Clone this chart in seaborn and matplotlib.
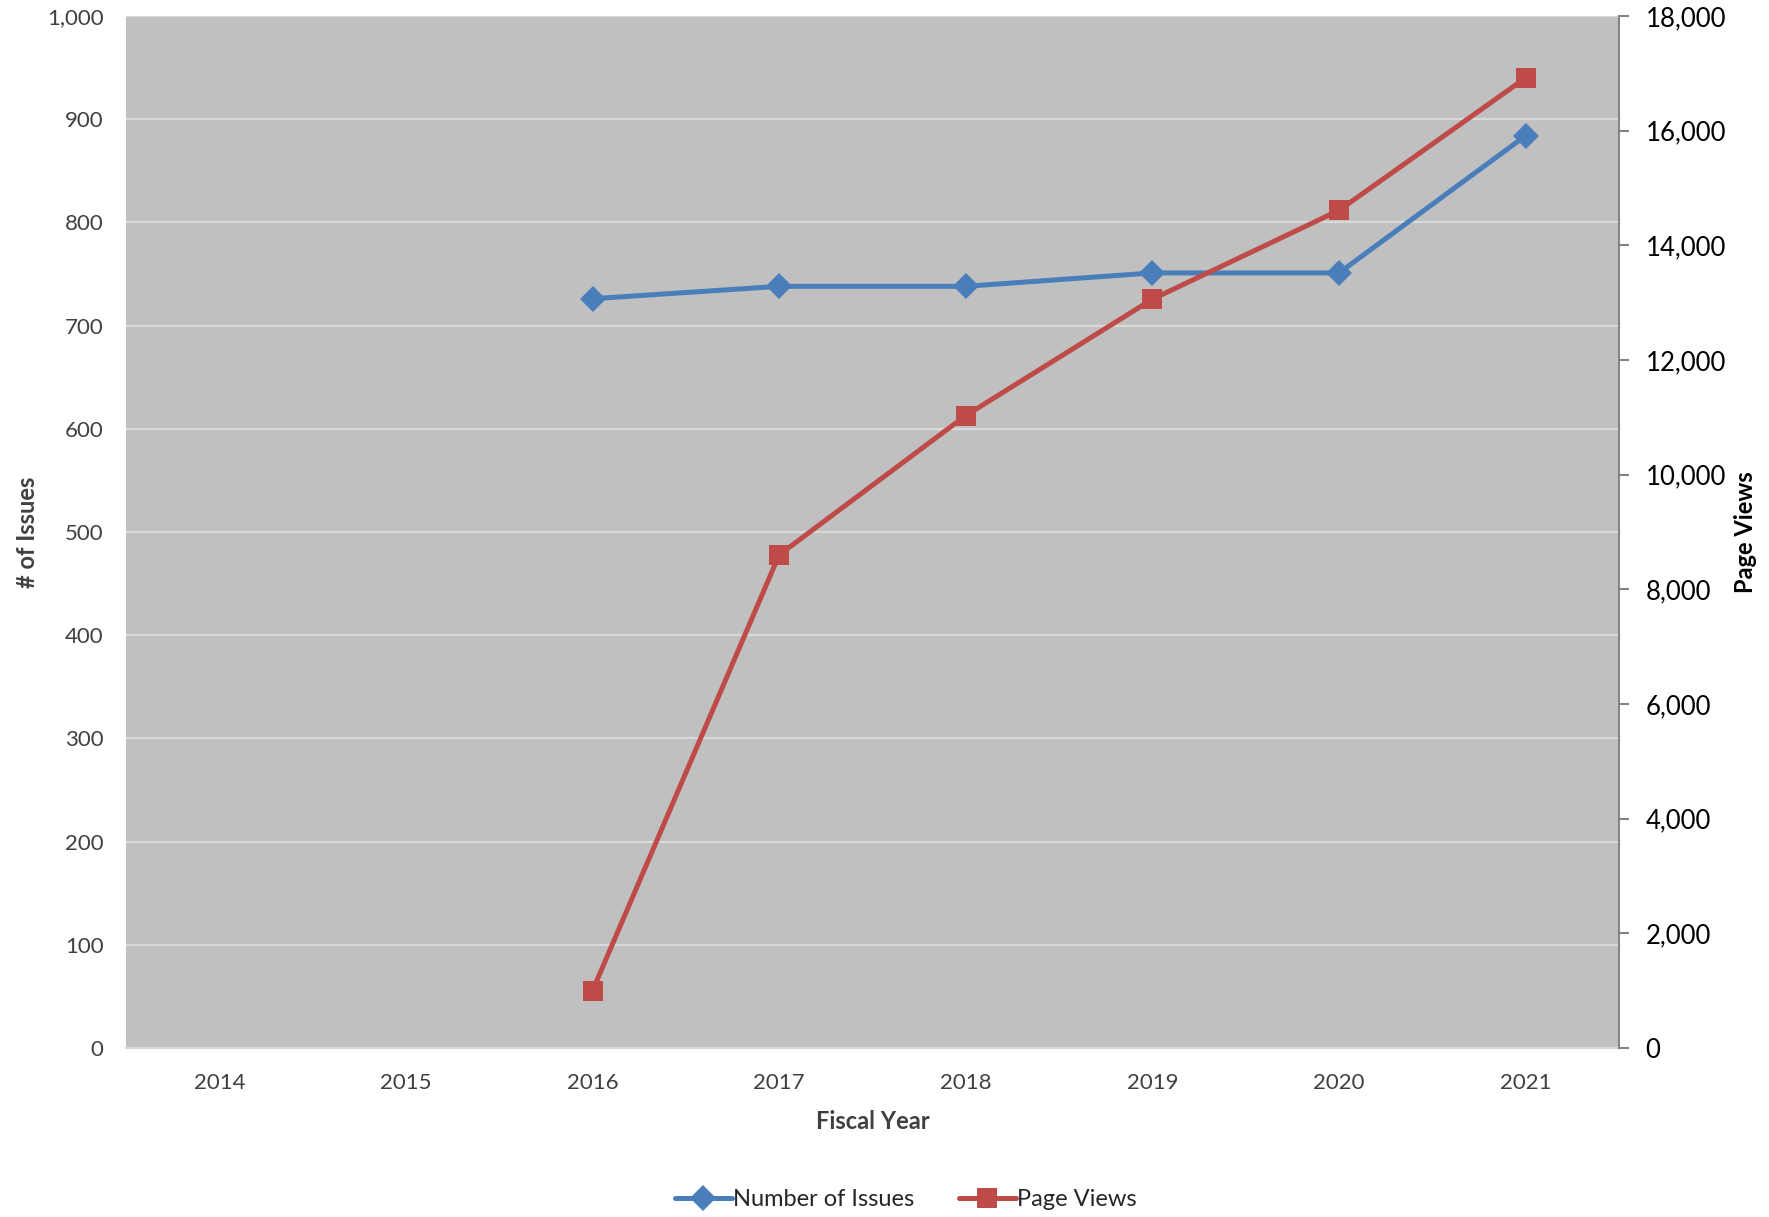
import numpy as np
import pandas as pd
import matplotlib
matplotlib.use("Agg")
import matplotlib.pyplot as plt
import seaborn as sns
from matplotlib.ticker import FuncFormatter, MultipleLocator

years = [2014, 2015, 2016, 2017, 2018, 2019, 2020, 2021]
issues = [np.nan, np.nan, 726, 738, 738, 751, 751, 884]
page_views = [np.nan, np.nan, 1000, 8600, 11030, 13060, 14610, 16920]

sns.set_theme(style="white")
plt.rcParams['font.family'] = ['Lato', 'DejaVu Sans']

df = pd.DataFrame({"Fiscal Year": years, "Number of Issues": issues, "Page Views": page_views})

blue = "#4a7ebb"
red = "#be4b48"

fig = plt.figure(figsize=(17.69, 12.17), dpi=100)
ax = fig.add_axes([0.0712, 0.1389, 0.9152 - 0.0712, 0.9869 - 0.1389])
ax.set_facecolor("#c0c0c0")
ax2 = ax.twinx()

sns.lineplot(data=df, x="Fiscal Year", y="Number of Issues", ax=ax, color=blue,
             marker="D", markersize=13, linewidth=3.6, markeredgewidth=0,
             label="Number of Issues", legend=False)
sns.lineplot(data=df, x="Fiscal Year", y="Page Views", ax=ax2, color=red,
             marker="s", markersize=14, linewidth=3.6, markeredgewidth=0,
             label="Page Views", legend=False)

ax.set_xlim(years[0] - 0.5, years[-1] + 0.5)
ax.set_xticks(years)
ax.set_xticklabels([str(y) for y in years])
ax.set_ylim(0, 1000)
ax.yaxis.set_major_locator(MultipleLocator(100))
ax.yaxis.set_major_formatter(FuncFormatter(lambda v, p: f"{int(v):,}"))
ax2.set_ylim(0, 18000)
ax2.yaxis.set_major_locator(MultipleLocator(2000))
ax2.yaxis.set_major_formatter(FuncFormatter(lambda v, p: f"{int(v):,}"))

ax.grid(axis="y", color="#d9d9d9", linewidth=1.6)
ax.set_axisbelow(True)
ax.grid(axis="x", visible=False)
ax2.grid(False)

for s in ["left", "top", "right"]:
    ax.spines[s].set_visible(False)
ax.spines["bottom"].set_color("#d9d9d9")
ax.spines["bottom"].set_linewidth(1.6)
for s in ["left", "top", "bottom"]:
    ax2.spines[s].set_visible(False)
ax2.spines["right"].set_color("#868686")
ax2.spines["right"].set_linewidth(1.5)

ax.tick_params(axis="y", length=0, labelsize=16, labelcolor="#404040", pad=16)
ax.tick_params(axis="x", length=0, labelsize=16, labelcolor="#404040", pad=18)
ax2.tick_params(axis="y", length=7, width=1.5, color="#868686", direction="out",
                labelsize=18.5, labelcolor="black", pad=12, right=True)

ax.set_xlabel("Fiscal Year", fontsize=17, fontweight="bold", color="#404040", labelpad=12)
ax.set_ylabel("# of Issues", fontsize=17, fontweight="bold", color="#404040")
ax.yaxis.set_label_coords(-0.058, 0.5)
ax2.set_ylabel("Page Views", fontsize=17, fontweight="bold", color="black", labelpad=6)

h1, l1 = ax.get_legend_handles_labels()
h2, l2 = ax2.get_legend_handles_labels()
fig.legend(h1 + h2, l1 + l2, loc="center", bbox_to_anchor=(0.512, 0.0145),
           ncol=2, frameon=False, fontsize=17, handlelength=2.4,
           handletextpad=0.05, columnspacing=1.9)

fig.savefig("out.png", dpi=100)
